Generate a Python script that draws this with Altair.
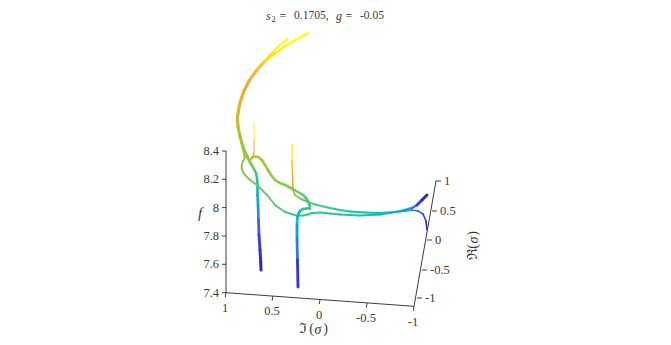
import altair as alt
import pandas as pd

# Curves: screen-space position, colour parameter, width
c1_x = [308,297,285,274,264,256,249,244,240.5,238.5,237.5,238,240,243,247,251,254,256,257,257.5,257.5,258,258.5,259,260,260.7,261]
c1_y = [33,39,46,54,62,71,81,91,101,110,118,127,136,147,156,164,169,173,178,185,195,205,220,235,250,262,270]
c1_t = [1,1,.98,.95,.88,.84,.8,.77,.74,.71,.68,.65,.62,.6,.58,.57,.52,.47,.4,.36,.3,.25,.16,.1,.06,.03,0]
c1_w = [2,2,2.2,2.4,2.6,2.8,3,3,3,3,3,3,3,3,3,2.8,2.6,2.6,2.6,2.6,2.6,2.6,2.8,2.8,3,3,3]

c2_x = [287,279,271,264,256,249,244,240.5,238.5,237.5,238,240,243,245,243,241.8,241.8,243,245,250,257,267,275,285,297,303,308,312,320,330,340,350,360,370,380,390,400,408,412,417,422,427]
c2_y = [39,46,54,62,71,81,91,101,110,118,127,136,149,158,161,165,169,172,175,180,185,195,205,212,215.7,215.5,214.5,213,212.5,213.5,214.5,215,215.5,215,214.5,213,211,208.8,208,205,200,195]
c2_t = [1,.98,.95,.88,.84,.8,.77,.74,.71,.68,.65,.62,.6,.6,.59,.58,.57,.565,.56,.55,.53,.51,.49,.47,.45,.44,.43,.42,.41,.4,.39,.38,.37,.36,.33,.31,.27,.22,.2,.12,.05,0]
c2_w = [2,2,2,2.2,2.4,2.6,2.6,2.6,2.6,2.6,2.6,2.6,2.4,2,2,2,2,2,2,2,2,2,2,2,2,2,2,1.8,1.8,1.8,1.8,1.8,1.8,1.8,1.8,1.8,1.8,1.8,2,3,3,3]

c3_x = [254,254,254,253,251,253,258,262,265,268,271,275,280,285,293,303,306,308,309.5,310,307,303,300,298.3,297.3,297,297,297.5,298]
c3_y = [123,140,152,157,159,156.5,157,160,165,170,175,180,183,185,189,195,198,201,205,208.5,208.5,209,211,214,218,225,240,260,287]
c3_t = [1,.9,.8,.76,.72,.66,.64,.62,.61,.6,.59,.58,.57,.56,.54,.5,.48,.46,.45,.42,.41,.4,.38,.36,.33,.3,.2,.13,0]
c3_w = [1,1,1.2,1.5,1.8,2.4,2.6,2.6,2.6,2.6,2.6,2.6,2.6,2.6,2.6,2.6,2.4,2.4,2.4,2.4,2.6,2.6,2.8,2.8,2.8,2.8,2.8,2.8,3]

c4_x = [292,292,292.5,293,295,301,308,315,330,340,350,365,380,395,405,412,418,423,426,427]
c4_y = [144,160,175,190,195,199,202,204.5,208,210,211.5,212.5,213,212,211,210,211,214,221,230]
c4_t = [1,.88,.8,.68,.6,.54,.5,.47,.42,.4,.38,.35,.33,.29,.24,.2,.15,.1,.05,0]
c4_w = [1.2,1.3,1.5,1.8,2,2,2,1.8,1.8,1.8,1.8,1.8,1.8,1.8,1.8,1.8,1.6,1.6,1.6,1.6]

curves = [(c1_x,c1_y,c1_t,c1_w),(c4_x,c4_y,c4_t,c4_w),(c2_x,c2_y,c2_t,c2_w),(c3_x,c3_y,c3_t,c3_w)]

color_stops = [0,.08,.15,.22,.3,.38,.45,.55,.65,.72,.8,.88,.95,1]
color_values = ["#2f1fb0","#3a3ae0","#4868f5","#2f9ae0","#20b8c0","#22c4a0","#40c888","#80c858","#bcc030","#e8b030","#f8a830","#ffc820","#fff000","#ffff00"]

# Axis geometry in the projected plane
z_ticks_y = [151,179.3,207.6,236,264.3,292.7]
z_labels = ["8.4","8.2","8","7.8","7.6","7.4"]
im_ticks_x = [226,272.8,320,367,414]
im_ticks_y = [292.7,296.2,299.6,303,306.3]
im_labels = ["1","0.5","0","-0.5","-1"]
im_label_x = [225,272,319,366,413]
im_label_y = [308,311,314.5,318,322]
re_ticks_x = [436,432,427,422,417]
re_ticks_y = [181,211,240,270,298]
re_labels = ["1","0.5","0","-0.5","-1"]
axis_x = [226,226,414,436]
axis_y = [151,292.7,306.3,181]

segs = []
for cx,cy,ct,cw in curves:
    for i in range(len(cx)-1):
        segs.append(dict(x=cx[i],y=cy[i],x2=cx[i+1],y2=cy[i+1],t=(ct[i]+ct[i+1])/2,w=(cw[i]+cw[i+1])/2,o=len(segs)))
segs = pd.DataFrame(segs)

axis_rows = []
for i in range(3):
    axis_rows.append(dict(x=axis_x[i],y=axis_y[i],x2=axis_x[i+1],y2=axis_y[i+1]))
for y in z_ticks_y:
    axis_rows.append(dict(x=222,y=y,x2=226,y2=y))
for x,y in zip(im_ticks_x,im_ticks_y):
    axis_rows.append(dict(x=x,y=y,x2=x-0.7,y2=y+4.5))
for x,y in zip(re_ticks_x,re_ticks_y):
    axis_rows.append(dict(x=x,y=y,x2=x+5,y2=y))
axis_df = pd.DataFrame(axis_rows)

TXT = "#3a3a3a"
SERIF = "Liberation Serif"
labels = []
for y,s in zip(z_ticks_y,z_labels):
    labels.append(dict(x=219,y=y,s=s,a="right"))
for x,y,s in zip(im_label_x,im_label_y,im_labels):
    labels.append(dict(x=x,y=y,s=s,a="center"))
for x,y,s in zip(re_ticks_x,re_ticks_y,re_labels):
    labels.append(dict(x=x+8,y=y,s=s,a="left"))
labels = pd.DataFrame(labels)

xs = alt.Scale(domain=[8,663],range=[0,655],nice=False,zero=False)
ys = alt.Scale(domain=[8,337],range=[0,329],nice=False,zero=False)
X = alt.X("x:Q",scale=xs,axis=None)
Y = alt.Y("y:Q",scale=ys,axis=None)

axes_layer = alt.Chart(axis_df).mark_rule(color="#262626",strokeWidth=0.9).encode(X,Y,x2="x2:Q",y2="y2:Q")
curve_layer = alt.Chart(segs).mark_rule(strokeCap="round").encode(
    X,Y,x2="x2:Q",y2="y2:Q",
    color=alt.Color("t:Q",scale=alt.Scale(domain=color_stops,range=color_values),legend=None),
    size=alt.Size("w:Q",scale=None,legend=None),
    order="o:Q")

def text_layer(df,**kw):
    return alt.Chart(pd.DataFrame(df)).mark_text(font=SERIF,color=TXT,baseline="middle",**kw).encode(X,Y,text="s:N")

tick_layers = [text_layer(labels[labels.a==a],align=a,fontSize=12.5) for a in ["right","center","left"]]

title_layers = [
    text_layer([dict(x=266,y=16,s="s")],align="left",fontSize=12,fontStyle="italic"),
    text_layer([dict(x=271.5,y=18.5,s="2")],align="left",fontSize=8.5),
    text_layer([dict(x=283,y=16,s="=")],align="center",fontSize=12),
    text_layer([dict(x=294,y=16,s="0.1705,")],align="left",fontSize=11.5),
    text_layer([dict(x=336,y=16,s="g")],align="left",fontSize=12,fontStyle="italic"),
    text_layer([dict(x=349,y=16,s="=")],align="center",fontSize=12),
    text_layer([dict(x=360,y=16,s="-0.05")],align="left",fontSize=11.5),
    text_layer([dict(x=200,y=213,s="f")],align="center",fontSize=15,fontStyle="italic"),
    text_layer([dict(x=303,y=329,s="ℑ")],align="center",fontSize=14),
    text_layer([dict(x=311.5,y=329,s="(")],align="center",fontSize=14),
    text_layer([dict(x=318,y=330,s="σ")],align="center",fontSize=14,fontStyle="italic"),
    text_layer([dict(x=325.5,y=329,s=")")],align="center",fontSize=14),
    text_layer([dict(x=473,y=254,s="ℜ")],align="center",fontSize=14,angle=270),
    text_layer([dict(x=473,y=246.5,s="(")],align="center",fontSize=14,angle=270),
    text_layer([dict(x=474,y=240,s="σ")],align="center",fontSize=14,fontStyle="italic",angle=270),
    text_layer([dict(x=473,y=233.5,s=")")],align="center",fontSize=14,angle=270),
]

chart = alt.layer(axes_layer,curve_layer,*tick_layers,*title_layers).resolve_scale(color="independent").properties(
    width=655,height=329,padding=0,background="white",autosize=alt.AutoSizeParams(type="none")
).configure_view(stroke=None)

chart.save("out.html", embed_options={"renderer": "svg", "actions": False})
